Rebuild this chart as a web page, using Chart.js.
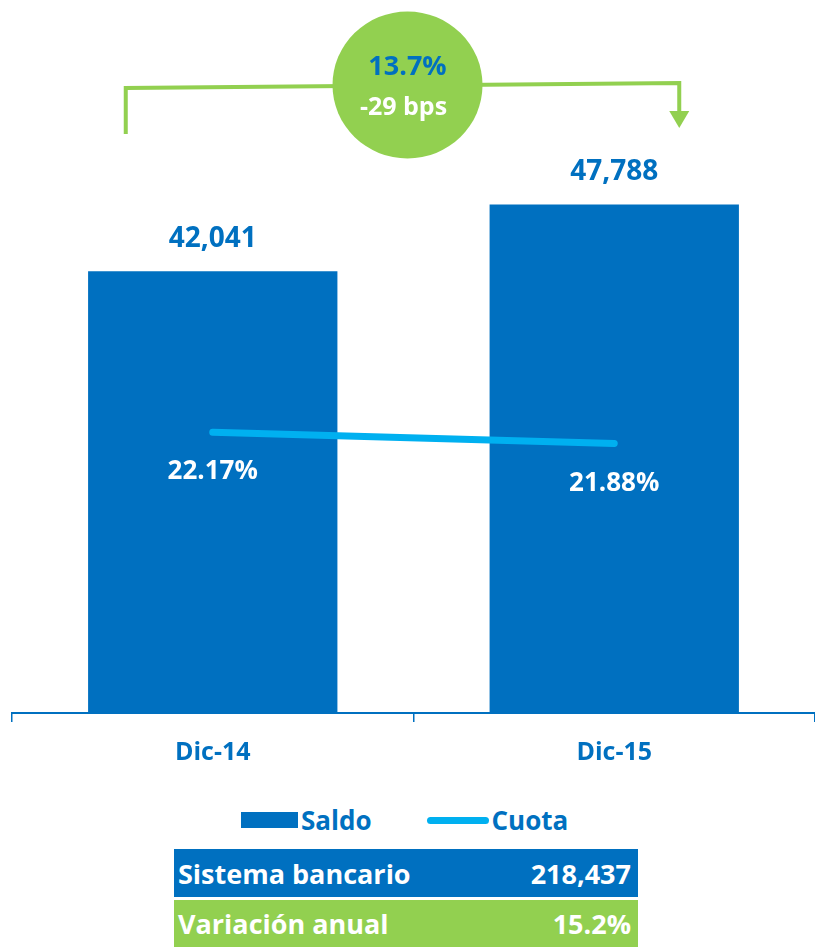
<!DOCTYPE html>
<html lang="es">
<head>
  <meta charset="UTF-8">
  <script src="https://cdn.jsdelivr.net/npm/chart.js"></script>
  <title>Saldo y cuota</title>
  <style>
    body { margin: 0; background: #fff; font-family: 'Open Sans', sans-serif; font-weight: bold; }
    #wrap { position: relative; width: 815px; height: 947px; overflow: hidden; }
    #myChart { position: absolute; left: 0; top: 0; }
    .legend { position: absolute; left: 241px; top: 804px; display: flex; align-items: center; height: 32px; font-size: 26px; color: #0070C0; }
    .legend .box { width: 57px; height: 16px; background: #0070C0; margin-right: 3px; }
    .legend .ln { width: 62px; height: 7px; border-radius: 4px; background: #00B0F0; margin-left: 55px; margin-right: 3px; }
    .tabla { position: absolute; left: 174px; top: 849px; width: 464px; }
    .tabla .row { display: flex; justify-content: space-between; align-items: center; color: #fff; font-size: 27px; padding: 0 7px 0 4px; }
    .tabla .r1 { height: 48px; background: #0070C0; margin-bottom: 3px; }
    .tabla .r2 { height: 47px; background: #92D050; }
  </style>
</head>
<body>
  <div id="wrap">
    <canvas id="myChart" width="815" height="790"></canvas>
    <div class="legend">
      <div class="box"></div><span>Saldo</span>
      <div class="ln"></div><span>Cuota</span>
    </div>
    <div class="tabla">
      <div class="row r1"><span id="t1"></span><span id="v1"></span></div>
      <div class="row r2"><span id="t2"></span><span id="v2"></span></div>
    </div>
  </div>

  <script>
    const labels = ['Dic-14', 'Dic-15'];
    const saldo = [42041, 47788];
    const cuota = [22.17, 21.88];
    const tablaLabels = ['Sistema bancario', 'Variación anual'];
    const tablaValues = ['218,437', '15.2%'];

    const BLUE = '#0070C0';
    const SKY = '#00B0F0';
    const GREEN = '#92D050';

    document.getElementById('t1').textContent = tablaLabels[0];
    document.getElementById('v1').textContent = tablaValues[0];
    document.getElementById('t2').textContent = tablaLabels[1];
    document.getElementById('v2').textContent = tablaValues[1];

    // crecimiento del saldo y cambio de cuota en puntos basicos
    const growth = ((saldo[1] / saldo[0] - 1) * 100).toFixed(1) + '%';
    const bps = Math.round((cuota[1] - cuota[0]) * 100) + ' bps';

    const labelsPlugin = {
      id: 'valueLabels',
      afterDatasetsDraw(chart) {
        const ctx = chart.ctx;
        ctx.save();
        ctx.textAlign = 'center';
        ctx.textBaseline = 'alphabetic';

        const bars = chart.getDatasetMeta(0).data;
        ctx.font = 'bold 28px "Open Sans"';
        ctx.fillStyle = BLUE;
        bars.forEach((b, i) => {
          ctx.fillText(saldo[i].toLocaleString('en-US'), b.x, b.y - 24);
        });

        const pts = chart.getDatasetMeta(1).data;
        ctx.font = 'bold 26px "Open Sans"';
        ctx.fillStyle = '#fff';
        pts.forEach((p, i) => {
          ctx.fillText(cuota[i].toFixed(2) + '%', p.x, p.y + 47);
        });
        ctx.restore();
      },
      afterDraw(chart) {
        const ctx = chart.ctx;
        const x = chart.scales.x;
        const x0 = x.getPixelForValue(0);
        const x1 = x.getPixelForValue(1);
        const lx = x0 - 87, rx = x1 + 65;
        const cx = (x0 + x1) / 2 - 6, cy = 85;

        ctx.save();
        ctx.strokeStyle = GREEN;
        ctx.fillStyle = GREEN;
        ctx.lineWidth = 4;
        ctx.beginPath();
        ctx.moveTo(lx, 134);
        ctx.lineTo(lx, 88);
        ctx.lineTo(rx, 83);
        ctx.lineTo(rx, 113);
        ctx.stroke();
        ctx.beginPath();
        ctx.moveTo(rx - 10, 111);
        ctx.lineTo(rx + 10, 111);
        ctx.lineTo(rx, 128);
        ctx.closePath();
        ctx.fill();

        ctx.beginPath();
        ctx.ellipse(cx, cy, 75, 73.5, 0, 0, Math.PI * 2);
        ctx.fill();

        ctx.textAlign = 'center';
        ctx.font = 'bold 27px "Open Sans"';
        ctx.fillStyle = BLUE;
        ctx.fillText(growth, cx, 75);
        ctx.font = 'bold 25px "Open Sans"';
        ctx.fillStyle = '#fff';
        ctx.fillText(bps, cx - 4, 115);
        ctx.restore();
      }
    };

    const ctx = document.getElementById('myChart').getContext('2d');
    const myChart = new Chart(ctx, {
      data: {
        labels: labels,
        datasets: [
          {
            type: 'bar',
            label: 'Saldo',
            data: saldo,
            backgroundColor: BLUE,
            categoryPercentage: 1,
            barPercentage: 0.621,
            yAxisID: 'y',
            order: 2
          },
          {
            type: 'line',
            label: 'Cuota',
            data: cuota,
            borderColor: SKY,
            borderWidth: 7,
            borderCapStyle: 'round',
            pointRadius: 0,
            yAxisID: 'y2',
            order: 1
          }
        ]
      },
      options: {
        responsive: false,
        animation: false,
        layout: { padding: { left: 12, right: 0, top: 130, bottom: 0 } },
        plugins: {
          legend: { display: false },
          tooltip: { enabled: false }
        },
        scales: {
          x: {
            afterFit(scale) { scale.height = 77; },
            grid: {
              drawOnChartArea: false,
              color: BLUE,
              lineWidth: 1.5,
              tickLength: 9
            },
            border: { color: BLUE, width: 2 },
            ticks: {
              color: BLUE,
              font: { family: 'Open Sans', weight: 'bold', size: 25 },
              padding: 16
            }
          },
          y: { display: false, min: 4000, max: 54200 },
          y2: { display: false, min: 14.9, max: 30 }
        }
      },
      plugins: [labelsPlugin]
    });
  </script>
</body>
</html>
